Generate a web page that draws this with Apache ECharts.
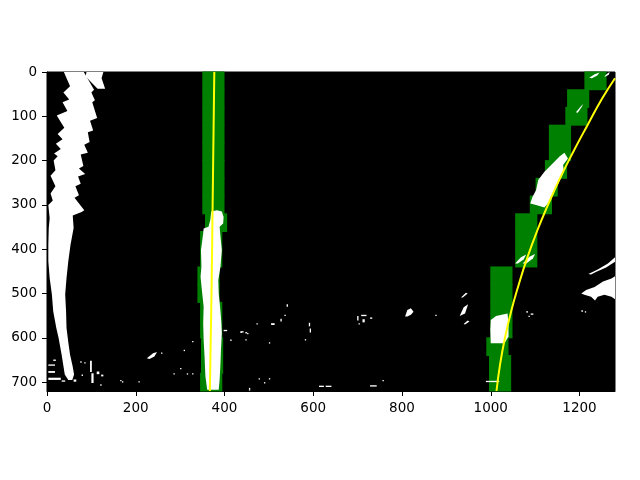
<!DOCTYPE html>
<html>
<head>
<meta charset="utf-8">
<script src="https://cdn.jsdelivr.net/npm/echarts@6/dist/echarts.min.js"></script>
<style>
  html, body { margin: 0; padding: 0; background: #fff; }
  #main { width: 640px; height: 480px; }
</style>
</head>
<body>
<div id="main"></div>
<script>
// image frame (pixels)
const imgW = 1280;
const imgH = 720;
const xTicks = [0, 200, 400, 600, 800, 1000, 1200];
const yTicks = [0, 100, 200, 300, 400, 500, 600, 700];

// sliding windows, top row of each window (40 rows tall), top -> bottom
const winTop = [0, 40, 80, 120, 160, 200, 240, 280, 320, 360, 400, 440, 480, 520, 560, 600, 640, 680];
const winH = 40;
const winHalfW = 25;
const leftWinX = [375, 375, 375, 375, 375, 375, 375, 375, 381, 370, 370, 364, 364, 370, 370, 372, 372, 370];
const rightWinX = [1236, 1197, 1193, 1156, 1156, 1147, 1126, 1113, 1080, 1080, 1080, 1024, 1024, 1024, 1024, 1015, 1021, 1021];

// fitted lane lines
const leftFitY = [0, 120, 240, 360, 480, 600, 720];
const leftFitX = [377, 375.5, 374, 372.5, 371, 369, 367];
const rightFitY = [14, 60, 120, 180, 240, 300, 360, 420, 480, 540, 600, 660, 720];
const rightFitX = [1280, 1251, 1218, 1186, 1156, 1129, 1104, 1082, 1063, 1046, 1032, 1021, 1013];

// white pixel regions, outlines in image pixels
const edgeStripe = [
  [83, 0], [106, 40], [100, 46], [108, 64], [102, 68], [113, 104], [97, 110], [104, 132], [92, 136],
  [96, 158], [84, 164], [92, 182], [76, 186], [82, 212], [72, 218], [86, 230], [70, 236], [76, 252],
  [64, 258], [72, 278], [62, 284], [84, 312], [78, 316], [58, 324], [60, 352], [53, 390], [48, 427],
  [44, 465], [41, 502], [43, 540], [44, 578], [48, 610], [52, 638], [58, 665], [61, 683], [57, 695],
  [48, 695], [40, 683], [33, 638], [26, 600], [21, 578], [14, 540], [11, 502], [6, 465], [3, 427],
  [3, 390], [4, 352], [6, 330], [3, 300], [13, 290], [8, 274], [19, 258], [8, 234], [19, 222],
  [15, 200], [24, 190], [16, 184], [31, 174], [20, 162], [35, 152], [24, 140], [39, 126], [22, 98],
  [46, 88], [35, 68], [50, 62], [37, 46], [52, 32], [38, 0]
];
const edgeTooth = [[89, 0], [127, 0], [123, 14], [131, 38], [114, 38], [87, 10]];
const leftLanePx = [
  [383, 312], [394, 315], [398, 327], [397, 342], [389, 349], [391, 372], [394, 402], [391, 439],
  [386, 470], [387, 500], [390, 530], [393, 567], [394, 590], [392, 627], [391, 657], [389, 695],
  [387, 717], [361, 717], [357, 687], [355, 642], [353, 605], [352, 567], [353, 530], [349, 492],
  [346, 462], [348, 439], [347, 402], [352, 364], [353, 353], [364, 349], [368, 334], [370, 315]
];
const rightTopA = [[1222, 13], [1234, 5], [1245, 1], [1240, 8], [1228, 14]];
const rightTopB = [[1256, 10], [1262, 4], [1268, 0], [1266, 6], [1259, 10]];
const rightSlashC = [[1192, 91], [1200, 81], [1208, 72], [1205, 79], [1196, 92]];
const rightLeaf = [
  [1166, 182], [1174, 195], [1163, 210], [1165, 225], [1152, 252], [1141, 274], [1132, 293],
  [1121, 306], [1102, 300], [1089, 297], [1094, 282], [1102, 267], [1107, 244], [1121, 225],
  [1140, 206], [1155, 191]
];
const rightSlashD = [[1055, 432], [1068, 418], [1080, 412], [1074, 423], [1061, 432]];
const rightSlashE = [[1072, 432], [1087, 417], [1100, 411], [1095, 421], [1080, 432]];
const rightBlock = [[1000, 560], [1012, 551], [1038, 545], [1040, 575], [1040, 597], [1031, 612], [1000, 612], [999, 582]];
const farStrandA = [[1220, 456], [1241, 446], [1264, 432], [1280, 418], [1280, 428], [1260, 441], [1238, 451], [1226, 457]];
const farStrandB = [
  [1204, 500], [1215, 492], [1234, 485], [1253, 473], [1272, 466], [1280, 461], [1280, 513],
  [1272, 507], [1256, 503], [1241, 507], [1235, 516], [1226, 507], [1211, 503]
];
const midSlash1 = [[933, 509], [944, 498], [948, 500], [937, 509]];
const midSlash2 = [[930, 551], [939, 531], [949, 524], [942, 545]];
const midSlash3 = [[939, 569], [948, 561], [952, 563], [942, 570]];
const midBlob = [[807, 552], [812, 537], [820, 533], [826, 541], [820, 548], [812, 552]];
const lowSlash = [[225, 646], [239, 635], [248, 632], [242, 642], [231, 648]];
const whiteShapes = [
  edgeStripe, edgeTooth, leftLanePx, rightTopA, rightTopB, rightSlashC, rightLeaf,
  rightSlashD, rightSlashE, rightBlock, farStrandA, farStrandB,
  midSlash1, midSlash2, midSlash3, midBlob, lowSlash
];

// small specks [x, y, w, h]
const specks = [
  [699, 551, 3, 10], [708, 548, 12, 3], [711, 558, 5, 7], [728, 554, 5, 3], [702, 567, 3, 3],
  [875, 548, 3, 3], [590, 566, 3, 8], [592, 579, 3, 9], [540, 524, 3, 6], [535, 548, 3, 3],
  [526, 557, 3, 6], [505, 567, 8, 4], [472, 567, 3, 3], [436, 585, 7, 3], [447, 587, 4, 3],
  [447, 603, 3, 3], [500, 610, 3, 3], [581, 603, 3, 3], [613, 708, 11, 3], [628, 708, 13, 3],
  [728, 707, 15, 3], [477, 691, 3, 3], [489, 700, 3, 3], [500, 691, 3, 3], [455, 716, 3, 3],
  [756, 695, 3, 3], [257, 633, 3, 3], [308, 627, 3, 3], [327, 607, 3, 3], [300, 668, 3, 3],
  [315, 680, 3, 3], [327, 680, 3, 3], [285, 680, 3, 3], [165, 695, 3, 3], [206, 698, 3, 3],
  [398, 582, 8, 3], [436, 586, 3, 3], [451, 589, 3, 3], [413, 604, 3, 3], [455, 713, 3, 3],
  [3, 660, 15, 3], [3, 675, 15, 4], [3, 690, 28, 5], [14, 649, 6, 3], [33, 696, 8, 3],
  [97, 652, 4, 25], [100, 680, 5, 22], [75, 653, 3, 3], [84, 655, 3, 3], [112, 676, 6, 6],
  [122, 683, 5, 4], [78, 683, 3, 3], [60, 694, 6, 5], [169, 698, 3, 3], [120, 705, 3, 3],
  [989, 697, 30, 3], [1080, 540, 4, 3], [1090, 545, 6, 3], [1085, 550, 3, 3],
  [1204, 538, 4, 3], [1212, 540, 3, 3]
];

const windows = [];
winTop.forEach((y, i) => {
  windows.push([leftWinX[i], y, y + winH]);
  windows.push([rightWinX[i], y, y + winH]);
});

const chart = echarts.init(document.getElementById('main'), null, { renderer: 'canvas' });

const axisFont = { fontFamily: 'DejaVu Sans', fontSize: 13.5, color: '#000', formatter: v => String(v) };

chart.setOption({
  animation: false,
  backgroundColor: '#fff',
  grid: {
    left: 47, right: 25, top: 72, bottom: 89,
    show: true, backgroundColor: '#000', borderColor: '#000', borderWidth: 1
  },
  xAxis: {
    type: 'value', min: 0, max: imgW, interval: 200,
    axisLine: { show: true, onZero: false, lineStyle: { color: '#000', width: 1 } },
    axisTick: { show: true, length: 5, customValues: xTicks, lineStyle: { color: '#000', width: 1 } },
    axisLabel: Object.assign({ margin: 10, customValues: xTicks }, axisFont),
    splitLine: { show: false }
  },
  yAxis: {
    type: 'value', min: 0, max: imgH, interval: 100, inverse: true,
    axisLine: { show: true, onZero: false, lineStyle: { color: '#000', width: 1 } },
    axisTick: { show: true, length: 5, customValues: yTicks, lineStyle: { color: '#000', width: 1 } },
    axisLabel: Object.assign({ margin: 10, customValues: yTicks }, axisFont),
    splitLine: { show: false }
  },
  series: [
    {
      type: 'custom',
      z: 1,
      data: windows,
      encode: { x: 0, y: 1 },
      renderItem: (params, api) => {
        const cx = api.value(0);
        const p1 = api.coord([cx - winHalfW, api.value(1)]);
        const p2 = api.coord([cx + winHalfW, api.value(2)]);
        return {
          type: 'rect',
          shape: { x: p1[0], y: p1[1] - 0.5, width: p2[0] - p1[0], height: p2[1] - p1[1] + 1 },
          style: { fill: '#008000' }
        };
      }
    },
    {
      type: 'custom',
      z: 2,
      data: whiteShapes.map((s, i) => [s[0][0], s[0][1], i]),
      encode: { x: 0, y: 1 },
      renderItem: (params, api) => {
        const pts = whiteShapes[params.dataIndex].map(p => api.coord(p));
        return { type: 'polygon', shape: { points: pts }, style: { fill: '#fff' } };
      }
    },
    {
      type: 'custom',
      z: 2,
      data: specks,
      encode: { x: 0, y: 1 },
      renderItem: (params, api) => {
        const p = api.coord([api.value(0), api.value(1)]);
        const s = api.size([api.value(2), api.value(3)]);
        return {
          type: 'rect',
          shape: { x: p[0], y: p[1], width: Math.max(s[0], 1), height: Math.max(s[1], 1) },
          style: { fill: '#fff' }
        };
      }
    },
    {
      type: 'line',
      z: 3,
      data: leftFitX.map((x, i) => [x, leftFitY[i]]),
      showSymbol: false,
      smooth: true,
      lineStyle: { color: '#ffff00', width: 2 }
    },
    {
      type: 'line',
      z: 3,
      data: rightFitX.map((x, i) => [x, rightFitY[i]]),
      showSymbol: false,
      smooth: true,
      lineStyle: { color: '#ffff00', width: 2 }
    }
  ]
});
</script>
</body>
</html>
